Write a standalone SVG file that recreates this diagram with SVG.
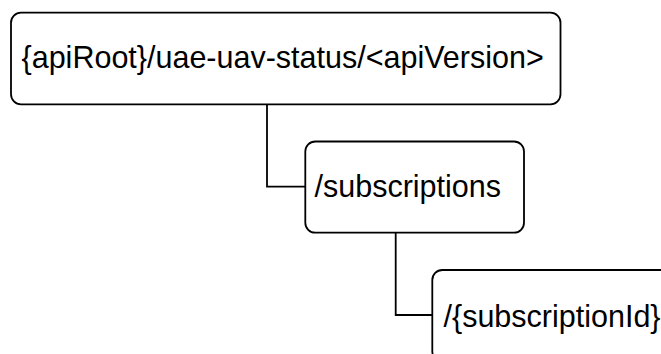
<svg xmlns="http://www.w3.org/2000/svg" width="661" height="354" viewBox="0 0 661 354">
<style>
.box{fill:#fff;stroke:#000;stroke-width:1.8}
.lbl{font-family:"Liberation Sans",Arial,sans-serif;font-size:30.5px;fill:#000}
.conn{fill:none;stroke:#000;stroke-width:1.8}
</style>
<rect width="661" height="354" fill="#fff"/>
<g id="connectors">
<path class="conn" d="M267,104.5 V186.7 H305.3"/>
<path class="conn" d="M395.7,232.7 V315 H432.3"/>
</g>
<g id="node-root">
<rect class="box" x="11" y="12.7" width="549.5" height="91.6" rx="10"/>
<text class="lbl" x="21.5" y="67.7">{apiRoot}/uae-uav-status/&lt;apiVersion&gt;</text>
</g>
<g id="node-subscriptions">
<rect class="box" x="305.3" y="141.5" width="218.7" height="91.2" rx="10"/>
<text class="lbl" x="314.5" y="196.7">/subscriptions</text>
</g>
<g id="node-subscriptionId">
<rect class="box" x="432.3" y="270" width="260" height="91.2" rx="10"/>
<text class="lbl" x="443.5" y="326.7">/{subscriptionId}</text>
</g>
</svg>
